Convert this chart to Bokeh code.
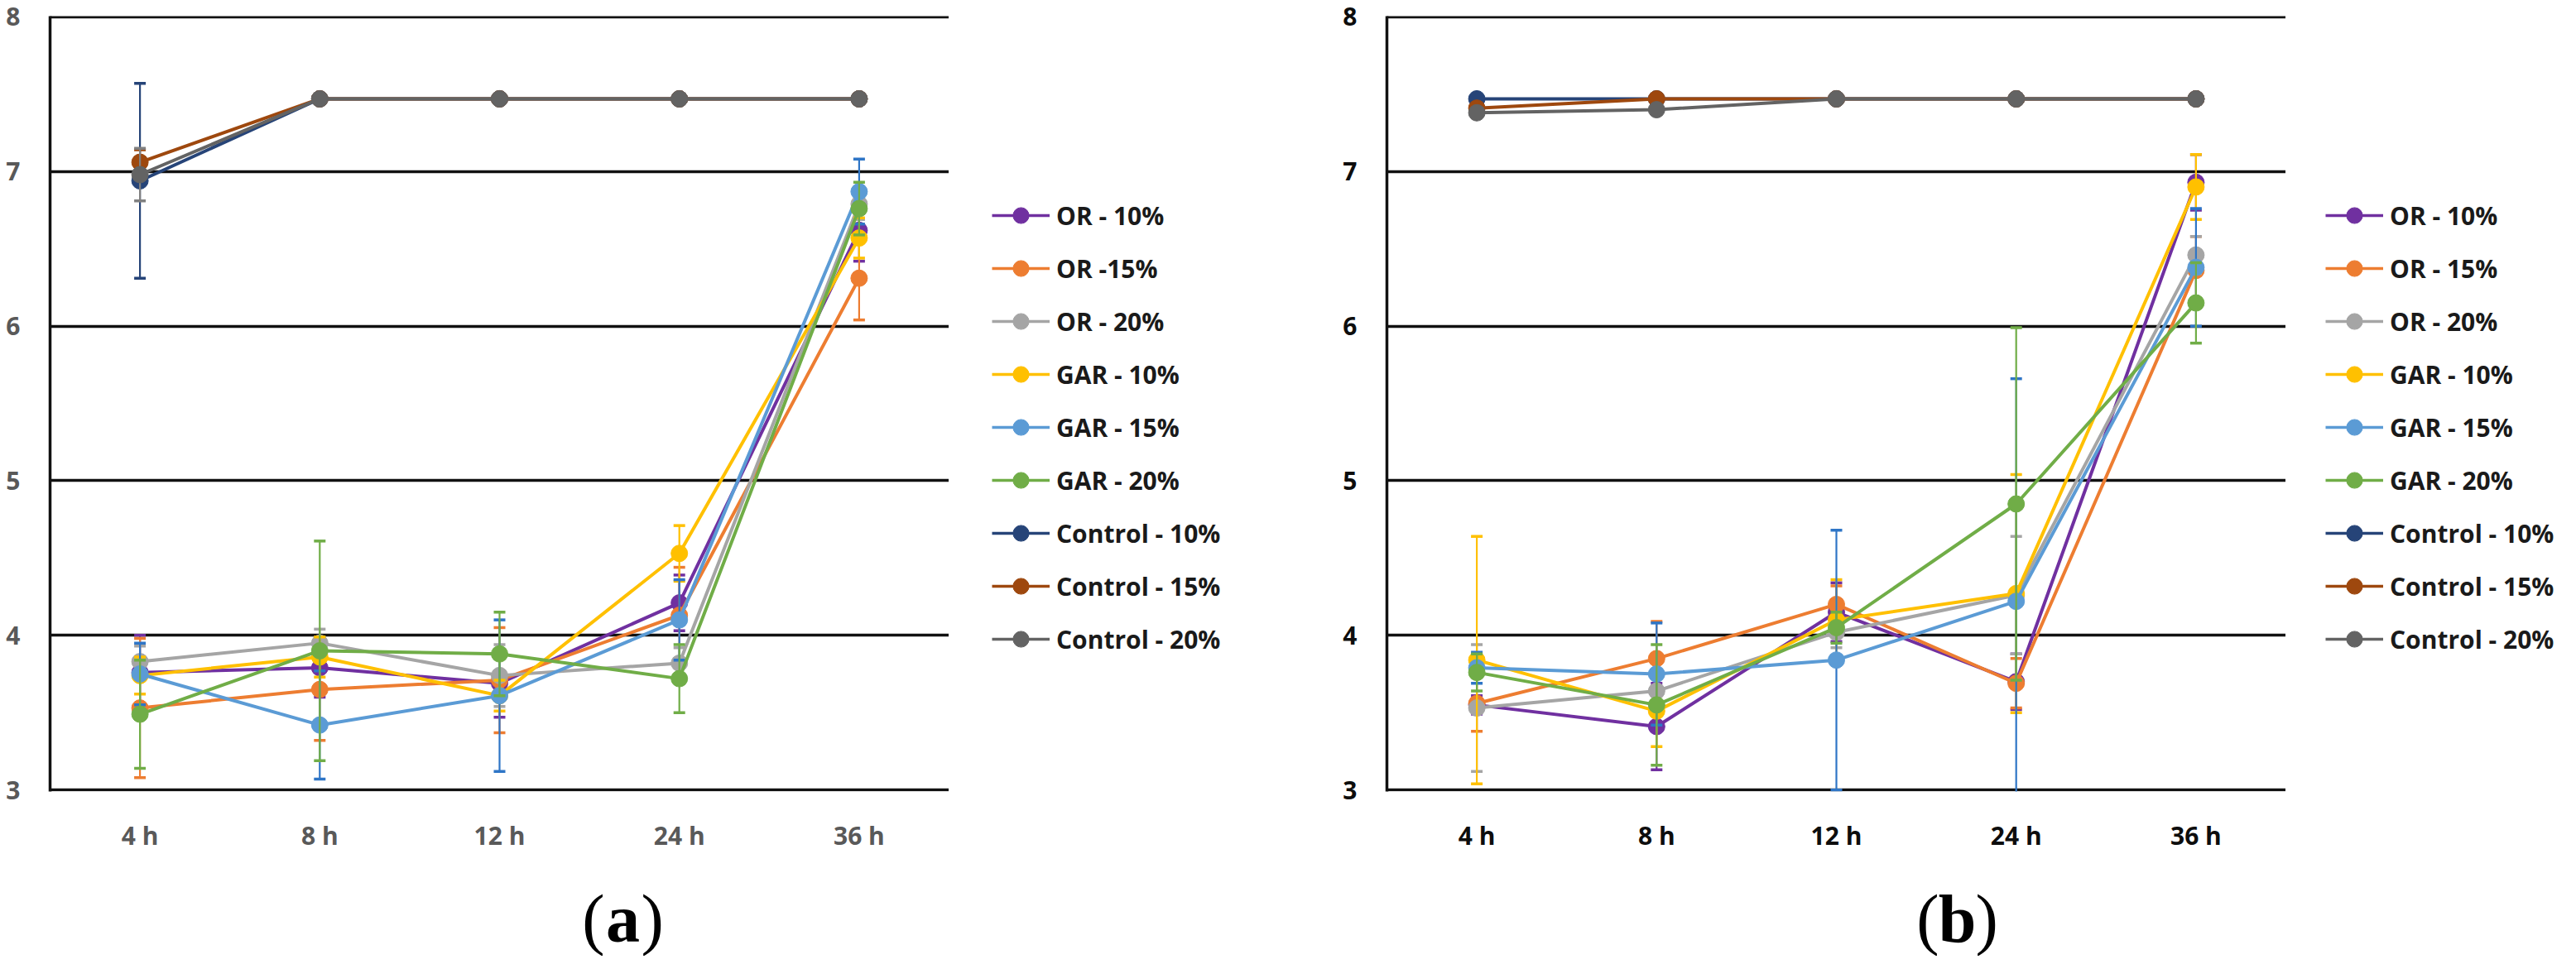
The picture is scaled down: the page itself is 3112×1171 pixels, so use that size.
from bokeh.plotting import figure
from bokeh.layouts import row, column
from bokeh.models import (Legend, LegendItem, FactorRange, Range1d,
                          ColumnDataSource, FixedTicker)
from bokeh.core.properties import value
from bokeh.embed import file_html
from bokeh.resources import INLINE

# ---------------- data ----------------
times = ["4 h", "8 h", "12 h", "24 h", "36 h"]
y_ticks = [3, 4, 5, 6, 7, 8]

names_a = ["OR - 10%", "OR -15%", "OR - 20%", "GAR - 10%", "GAR - 15%", "GAR - 20%",
           "Control - 10%", "Control - 15%", "Control - 20%"]
names_b = ["OR - 10%", "OR - 15%", "OR - 20%", "GAR - 10%", "GAR - 15%", "GAR - 20%",
           "Control - 10%", "Control - 15%", "Control - 20%"]

colors = ["#7030A0", "#ED7D31", "#A5A5A5", "#FFC000", "#5B9BD5", "#70AD47",
          "#264478", "#9E480E", "#636363"]
err_colors = ["#7030A0", "#ED7D31", "#A5A5A5", "#FFC000", "#2E75C6", "#70AD47",
              "#264478", "#9E480E", "#808080"]

# panel (a)
a_or10 = [3.76, 3.79, 3.69, 4.21, 6.62]
a_or15 = [3.53, 3.65, 3.71, 4.13, 6.31]
a_or20 = [3.83, 3.95, 3.74, 3.82, 6.79]
a_gar10 = [3.74, 3.86, 3.61, 4.53, 6.57]
a_gar15 = [3.75, 3.42, 3.61, 4.10, 6.87]
a_gar20 = [3.49, 3.90, 3.88, 3.72, 6.76]
a_c10 = [6.94, 7.47, 7.47, 7.47, 7.47]
a_c15 = [7.06, 7.47, 7.47, 7.47, 7.47]
a_c20 = [6.98, 7.47, 7.47, 7.47, 7.47]

a_or10_err = [0.24, 0.19, 0.22, 0.18, 0.20]
a_or15_err = [0.45, 0.33, 0.34, 0.31, 0.27]
a_or20_err = [0.10, 0.09, 0.20, 0.10, 0.10]
a_gar10_err = [0.12, 0.13, 0.10, 0.18, 0.13]
a_gar15_err = [0.20, 0.35, 0.49, 0.26, 0.21]
a_gar20_err = [0.35, 0.71, 0.27, 0.22, 0.17]
a_c10_err = [0.63, 0.0, 0.0, 0.0, 0.0]
a_c15_err = [0.08, 0.0, 0.0, 0.0, 0.0]
a_c20_err = [0.17, 0.0, 0.0, 0.0, 0.0]

# panel (b)
b_or10 = [3.55, 3.41, 4.15, 3.70, 6.93]
b_or15 = [3.56, 3.85, 4.20, 3.69, 6.36]
b_or20 = [3.53, 3.64, 4.02, 4.26, 6.46]
b_gar10 = [3.84, 3.51, 4.10, 4.27, 6.90]
b_gar15 = [3.79, 3.75, 3.84, 4.22, 6.38]
b_gar20 = [3.76, 3.55, 4.05, 4.85, 6.15]
b_c10 = [7.47, 7.47, 7.47, 7.47, 7.47]
b_c15 = [7.41, 7.47, 7.47, 7.47, 7.47]
b_c20 = [7.38, 7.40, 7.47, 7.47, 7.47]

b_or10_err = [0.06, 0.28, 0.19, 0.18, 0.18]
b_or15_err = [0.18, 0.24, 0.12, 0.16, 0.22]
b_or20_err = [0.41, 0.10, 0.10, 0.38, 0.12]
b_gar10_err = [0.80, 0.23, 0.26, 0.77, 0.21]
b_gar15_err = [0.10, 0.33, 0.84, 1.44, 0.38]
b_gar20_err = [0.12, 0.39, 0.10, 1.14, 0.26]
b_c10_err = [0.0, 0.0, 0.0, 0.0, 0.0]
b_c15_err = [0.0, 0.0, 0.0, 0.0, 0.0]
b_c20_err = [0.0, 0.0, 0.0, 0.0, 0.0]

captions = ["a", "b"]

vals_a = [a_or10, a_or15, a_or20, a_gar10, a_gar15, a_gar20, a_c10, a_c15, a_c20]
errs_a = [a_or10_err, a_or15_err, a_or20_err, a_gar10_err, a_gar15_err, a_gar20_err,
          a_c10_err, a_c15_err, a_c20_err]
vals_b = [b_or10, b_or15, b_or20, b_gar10, b_gar15, b_gar20, b_c10, b_c15, b_c20]
errs_b = [b_or10_err, b_or15_err, b_or20_err, b_gar10_err, b_gar15_err, b_gar20_err,
          b_c10_err, b_c15_err, b_c20_err]

PANEL_W = 1548
MAIN_H = 1036
CAP_H = 1155 - MAIN_H
TOP, FRAME_H = 19, 937


def style_fig(p):
    p.outline_line_color = None
    p.background_fill_color = "white"
    p.border_fill_color = "white"


def make_main(vals, errs, tick_color, border_left, frame_w):
    p = figure(width=border_left + frame_w, height=MAIN_H,
               x_range=FactorRange(*times, range_padding=0),
               y_range=Range1d(2.99, 8.005),
               output_backend="svg", toolbar_location=None,
               min_border_left=border_left, min_border_right=0,
               min_border_top=TOP,
               min_border_bottom=MAIN_H - TOP - FRAME_H)
    style_fig(p)
    p.xgrid.grid_line_color = None
    p.ygrid.ticker = FixedTicker(ticks=y_ticks)
    p.ygrid.grid_line_color = "#111111"
    p.ygrid.grid_line_width = 3.5
    p.yaxis.ticker = FixedTicker(ticks=y_ticks)
    for ax in (p.xaxis[0], p.yaxis[0]):
        ax.major_tick_line_color = None
        ax.minor_tick_line_color = None
        ax.major_label_text_font = "Open Sans"
        ax.major_label_text_font_style = "bold"
        ax.major_label_text_font_size = "30px"
        ax.major_label_text_color = tick_color
    p.xaxis.axis_line_color = None
    p.yaxis.axis_line_color = "#111111"
    p.yaxis.axis_line_width = 3.5
    p.yaxis.major_label_standoff = 30
    p.xaxis.major_label_standoff = 26

    for i in range(len(vals)):
        c = colors[i]
        ec = err_colors[i]
        idx = [j for j in range(len(times)) if errs[i][j] > 0]
        if idx:
            ex = [times[j] for j in idx]
            lo = [vals[i][j] - errs[i][j] for j in idx]
            hi = [vals[i][j] + errs[i][j] for j in idx]
            p.segment(x0=ex, y0=lo, x1=ex, y1=hi, line_color=ec, line_width=2.2)
            p.scatter(x=ex + ex, y=lo + hi, marker="dash", size=14,
                      line_color=ec, line_width=3.5)
        src = ColumnDataSource(dict(x=times, y=vals[i]))
        p.line(x="x", y="y", source=src, line_color=c, line_width=4)
        p.scatter(x="x", y="y", source=src, size=20, fill_color=c, line_color=c)
    return p


def make_legend_fig(names, width, x_off):
    p = figure(width=width, height=MAIN_H, x_range=Range1d(0, 1), y_range=Range1d(0, 1),
               x_axis_type=None, y_axis_type=None,
               output_backend="svg", toolbar_location=None, min_border=0)
    style_fig(p)
    p.grid.grid_line_color = None
    items = []
    for i, name in enumerate(names):
        c = colors[i]
        # legend-only renderers, kept outside the visible range
        ln = p.line(x=[5, 6], y=[5, 6], line_color=c, line_width=3.5)
        sc = p.scatter(x=[5], y=[5], size=20, fill_color=c, line_color=c)
        items.append(LegendItem(label=name, renderers=[ln, sc]))
    legend = Legend(items=items, location=(x_off, 160),
                    border_line_color=None, background_fill_alpha=0,
                    label_text_font="Open Sans", label_text_font_size="30px",
                    label_text_font_style="bold",
                    label_text_color="#1a1a1a",
                    glyph_width=70, glyph_height=48, label_height=48,
                    spacing=16, padding=0, margin=0, label_standoff=8)
    p.add_layout(legend)
    return p


def make_caption(letter, cx):
    p = figure(width=PANEL_W, height=CAP_H, x_range=Range1d(0, PANEL_W),
               y_range=Range1d(0, CAP_H), x_axis_type=None, y_axis_type=None,
               output_backend="svg", toolbar_location=None, min_border=0)
    style_fig(p)
    p.grid.grid_line_color = None
    cy = CAP_H - 74
    half = 22
    p.text(x=[cx - half], y=[cy], text=["("], text_align="right", text_baseline="middle",
           text_font=value("Liberation Serif"), text_font_size="82px", text_color="black")
    p.text(x=[cx], y=[cy], text=[letter], text_align="center", text_baseline="middle",
           text_font=value("Liberation Serif"), text_font_size="82px",
           text_font_style="bold", text_color="black")
    p.text(x=[cx + half], y=[cy], text=[")"], text_align="left", text_baseline="middle",
           text_font=value("Liberation Serif"), text_font_size="82px", text_color="black")
    return p


main_a = make_main(vals_a, errs_a, "#595959", 60, 1086)
leg_a = make_legend_fig(names_a, PANEL_W - 1146, 52)
main_b = make_main(vals_b, errs_b, "#0d0d0d", 127, 1086)
leg_b = make_legend_fig(names_b, PANEL_W - 1213, 48)
cap_a = make_caption(captions[0], 752)
cap_b = make_caption(captions[1], 816)

layout = column(row(main_a, leg_a, main_b, leg_b, spacing=0),
                row(cap_a, cap_b, spacing=0), spacing=0)
open("out.html", "w").write(file_html(layout, INLINE))
